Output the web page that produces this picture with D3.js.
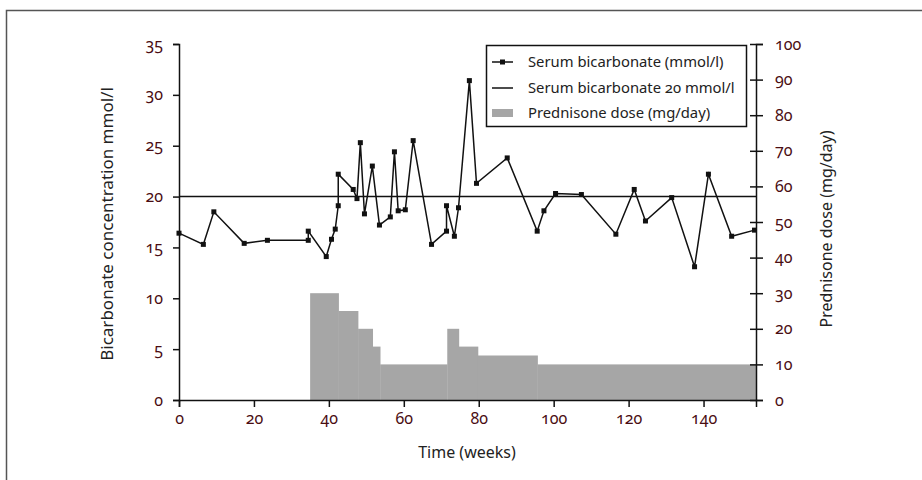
<!DOCTYPE html>
<html>
<head>
<meta charset="utf-8">
<script src="https://cdn.jsdelivr.net/npm/d3@7"></script>
<style>
  body { margin: 0; background: #fff; }
  svg { font-family: "Noto Sans", "Open Sans", sans-serif; }
  .tick text { fill: #4a0d12; font-size: 16px; font-family: "Noto Sans", sans-serif; font-variant-numeric: oldstyle-nums; }
  .title { font-size: 16px; fill: #222; }
  .leg { font-size: 14.8px; fill: #222; font-variant-numeric: oldstyle-nums; }
</style>
</head>
<body>
<div id="chart"></div>
<script>
// bicarbonate readings (weeks, mmol/l)
let weeks = [0, 6.5, 9.3, 17.4, 23.6, 34.5, 34.5, 39.3, 40.7, 41.7, 42.5, 42.5, 46.5, 47.5, 48.4, 49.5, 51.6, 53.5,
  56.4, 57.5, 58.5, 60.4, 62.5, 67.4, 71.4, 71.4, 73.5, 74.6, 77.5, 79.4, 87.6, 95.6, 97.4, 100.5, 107.4, 116.6,
  121.5, 124.5, 131.5, 137.6, 141.3, 147.5, 153.6];
let bicarb = [16.4, 15.3, 18.5, 15.4, 15.7, 15.7, 16.6, 14.1, 15.8, 16.8, 19.1, 22.2, 20.7, 19.8, 25.3, 18.3, 23.0, 17.2,
  18.0, 24.4, 18.6, 18.7, 25.5, 15.3, 16.6, 19.1, 16.1, 18.9, 31.4, 21.3, 23.8, 16.6, 18.6, 20.3, 20.2, 16.3,
  20.7, 17.6, 19.9, 13.1, 22.2, 16.1, 16.7];

// prednisone steps
let doseStart = [35, 42.6, 47.8, 51.7, 53.7, 71.6, 74.7, 79.8, 95.7];
let doseEnd = [42.6, 47.8, 51.7, 53.7, 71.6, 74.7, 79.8, 95.7, 154];
let dose = [30, 25, 20, 15, 10, 20, 15, 12.5, 10];

let threshold = 20;
let xTicks = [0, 20, 40, 60, 80, 100, 120, 140];
let leftTicks = [0, 5, 10, 15, 20, 25, 30, 35];
let rightTicks = [0, 10, 20, 30, 40, 50, 60, 70, 80, 90, 100];

let width = 922, height = 480;

let svg = d3.select("#chart").append("svg")
  .attr("width", width).attr("height", height);

// outer frame
svg.append("rect")
  .attr("x", 6.5).attr("y", 10.5)
  .attr("width", 940).attr("height", 500)
  .attr("fill", "none").attr("stroke", "#555").attr("stroke-width", 1.5);

let x = d3.scaleLinear().domain([0, 154]).range([179, 756]);
let yL = d3.scaleLinear().domain([0, 35]).range([400, 44]);
let yR = d3.scaleLinear().domain([0, 100]).range([400, 44]);

// dose bars
svg.selectAll(".dose").data(dose).enter().append("rect")
  .attr("class", "dose")
  .attr("x", (d, i) => x(doseStart[i]))
  .attr("width", (d, i) => x(doseEnd[i]) - x(doseStart[i]) + 0.3)
  .attr("y", d => yR(d))
  .attr("height", d => yR(0) - yR(d))
  .attr("fill", "#a6a6a6");

// 20 mmol/l line
svg.append("line")
  .attr("x1", x(0)).attr("x2", x(154))
  .attr("y1", yL(threshold)).attr("y2", yL(threshold))
  .attr("stroke", "#111").attr("stroke-width", 1.5);

// axes
let xAxis = svg.append("g").attr("transform", `translate(0,${yL(0)})`)
  .call(d3.axisBottom(x).tickValues(xTicks).tickSizeOuter(0).tickSize(7).tickPadding(6));
let lAxis = svg.append("g").attr("transform", `translate(${x(0)},0)`)
  .call(d3.axisLeft(yL).tickValues(leftTicks).tickSizeOuter(0).tickSize(6).tickPadding(10));
let rAxis = svg.append("g").attr("transform", `translate(${x(154)},0)`)
  .call(d3.axisRight(yR).tickValues(rightTicks).tickSizeOuter(0).tickSize(7).tickPadding(12));
rAxis.selectAll(".tick line").attr("x1", -6);

[xAxis, lAxis, rAxis].forEach(a => {
  a.attr("font-family", null).attr("font-size", null);
  a.select(".domain").attr("stroke", "#111").attr("stroke-width", 1.5);
  a.selectAll(".tick line").attr("stroke", "#111").attr("stroke-width", 1.5);
});

// bicarbonate series
let pts = weeks.map((w, i) => [w, bicarb[i]]);
svg.append("path").datum(pts)
  .attr("fill", "none").attr("stroke", "#111").attr("stroke-width", 1.5)
  .attr("d", d3.line().x(d => x(d[0])).y(d => yL(d[1])));

svg.selectAll(".pt").data(pts).enter().append("rect")
  .attr("class", "pt")
  .attr("x", d => x(d[0]) - 2.5).attr("y", d => yL(d[1]) - 2.5)
  .attr("width", 5).attr("height", 5).attr("fill", "#111");

// axis titles
svg.append("text").attr("class", "title")
  .attr("x", 467).attr("y", 458).attr("text-anchor", "middle")
  .text("Time (weeks)");
svg.append("text").attr("class", "title").style("font-size", "17px")
  .attr("transform", "translate(113,224) rotate(-90)").attr("text-anchor", "middle")
  .text("Bicarbonate concentration mmol/l");
svg.append("text").attr("class", "title")
  .attr("transform", "translate(832,229) rotate(-90)").attr("text-anchor", "middle")
  .text("Prednisone dose  (mg/day)");

// legend
let leg = svg.append("g");
leg.append("rect").attr("x", 486.5).attr("y", 45.5).attr("width", 260).attr("height", 81)
  .attr("fill", "#fff").attr("stroke", "#111").attr("stroke-width", 1.5);
let legRows = [62, 88, 113];
let legLabels = ["Serum bicarbonate (mmol/l)", "Serum bicarbonate 20 mmol/l", "Prednisone dose (mg/day)"];
leg.append("line").attr("x1", 492).attr("x2", 513).attr("y1", legRows[0]).attr("y2", legRows[0])
  .attr("stroke", "#111").attr("stroke-width", 1.5);
leg.append("rect").attr("x", 500).attr("y", legRows[0] - 2.5).attr("width", 5).attr("height", 5).attr("fill", "#111");
leg.append("line").attr("x1", 492).attr("x2", 513).attr("y1", legRows[1]).attr("y2", legRows[1])
  .attr("stroke", "#111").attr("stroke-width", 1.5);
leg.append("rect").attr("x", 492).attr("y", legRows[2] - 4).attr("width", 21).attr("height", 8).attr("fill", "#a6a6a6");
leg.selectAll(".leg").data(legLabels).enter().append("text")
  .attr("class", "leg")
  .attr("x", 528).attr("y", (d, i) => legRows[i]).attr("dy", "0.35em")
  .text(d => d);
</script>
</body>
</html>
